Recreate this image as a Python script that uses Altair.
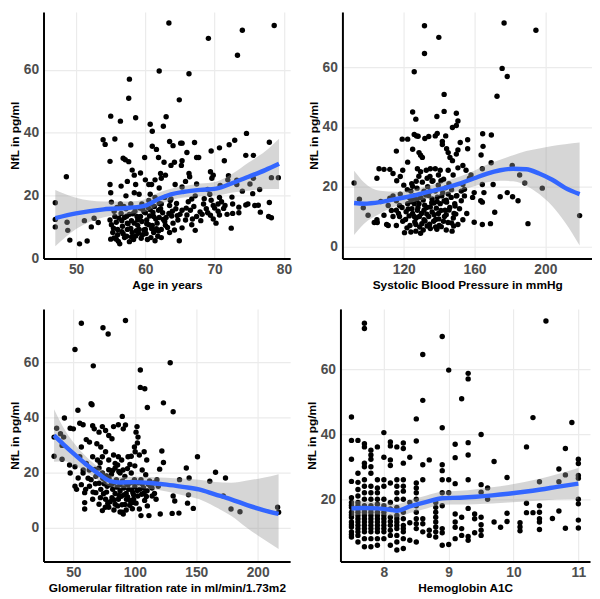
import altair as alt
import pandas as pd

FONT = "Liberation Sans"

# ---------------- Panel 1: Age ----------------
age_pts = [
    (63.4,75.0),(78.6,74.2),(74.0,72.7),(69.1,70.1),(73.3,64.7),(62.0,59.7),(66.3,58.8),(57.7,57.1),(57.6,51.0),(64.9,50.5),
    (55.0,45.3),(58.6,44.8),(63.0,45.1),(56.4,43.7),(60.7,42.7),(62.6,42.1),(61.0,40.5),(74.6,39.8),(53.9,37.8),(55.6,38.0),
    (54.2,36.3),(57.9,36.1),(63.5,37.2),(65.1,36.7),(67.1,36.9),(72.9,37.6),(77.9,37.0),(48.6,26.0),(47.0,17.7),(47.0,12.4),
    (47.0,10.0),(48.7,11.5),(48.8,8.9),(49.1,5.8),(50.5,4.6),(51.2,12.0),(51.6,5.5),(52.6,12.8),(52.2,10.0),(53.2,11.4),
    (78.2,25.7),(79.2,25.7),(77.9,17.8),(77.8,13.3),(78.2,12.9),(75.6,32.8),(74.5,32.8),(75.5,20.6),(76.5,21.9),(75.1,23.7),
    (74.8,17.3),(75.8,16.8),(76.3,16.9),(76.6,14.7),(75.6,25.5),(72.4,9.6),(72.1,36.2),(71.4,31.1),(70.7,35.2),(72.0,26.3),
    (71.9,25.0),(73.2,24.9),(73.2,23.5),(74.0,21.4),(72.6,17.3),(73.5,16.3),(72.6,14.3),(71.3,15.9),(70.7,13.8),(70.2,11.2),
    (69.4,13.7),(68.8,15.8),(69.8,16.8),(70.5,17.3),(68.4,17.3),(67.9,14.8),(70.7,19.4),(69.3,20.4),(69.4,27.6),(69.6,25.5),
    (69.8,26.5),(69.5,34.2),(69.0,21.9),(70.8,23.2),(67.2,19.9),(67.4,32.1),(67.7,32.1),(66.0,33.7),(66.3,27.0),(66.4,26.0),
    (65.3,31.1),(65.2,29.6),(64.2,30.6),(63.7,29.6),(64.0,35.9),(65.3,36.7),(64.3,23.5),(65.3,22.7),(65.8,24.5),(67.4,23.7),
    (66.7,18.9),(63.7,18.9),(63.5,16.8),(64.4,15.8),(65.3,15.3),(66.5,15.3),(67.4,13.3),(65.8,12.2),(64.7,12.2),(64.0,11.2),
    (65.3,9.7),(66.7,10.7),(67.2,8.9),(64.9,5.6),(63.5,8.2),(62.8,11.7),(61.9,8.7),(62.3,6.6),(61.4,5.6),(60.8,6.6),
    (60.0,9.2),(60.2,12.2),(61.2,13.3),(61.9,15.3),(62.3,17.3),(62.8,19.4),(62.0,22.4),(62.3,25.5),(62.2,27.0),(60.7,20.4),
    (60.5,18.4),(59.5,17.3),(59.8,14.8),(58.8,13.3),(59.5,11.7),(58.4,11.2),(59.1,9.2),(58.1,8.2),(58.6,7.1),(57.7,5.3),
    (57.0,6.6),(56.3,4.6),(55.8,6.1),(55.0,6.1),(55.3,8.2),(56.0,9.2),(56.7,10.2),(57.4,11.2),(55.1,10.7),(54.9,12.2),
    (55.6,13.3),(56.5,14.3),(57.2,15.8),(57.9,17.3),(56.4,17.3),(55.1,17.9),(55.0,20.9),(54.9,23.5),(54.9,30.9),(56.8,31.9),
    (57.6,30.8),(57.1,31.4),(58.1,28.1),(59.3,27.2),(59.9,32.1),(58.4,26.5),(58.6,23.5),(57.4,24.5),(56.5,23.0),(57.2,19.9),
    (58.4,20.9),(59.1,20.4),(60.0,25.0),(60.9,23.5),(61.4,25.0),(60.5,23.5),(61.0,35.7),(61.6,34.7),(61.9,32.1),(62.7,30.6),
    (62.9,26.5),(63.6,18.4),(63.4,14.3),(60.9,17.3),(61.4,19.4),(59.3,13.3),(60.5,10.7),(61.2,8.2),(61.7,11.2),(62.3,9.2),
    (56.0,7.5),(56.6,8.5),(57.3,7.0),(57.9,9.5),(58.3,6.0),(58.9,10.5),(59.6,7.5),(60.3,6.0),(60.9,9.5),(61.5,12.5),
    (56.2,12.8),(57.0,13.0),(57.7,14.0),(58.5,15.0),(59.2,16.0),(60.0,14.5),(60.7,15.5),(61.3,16.5),(62.0,13.0),(62.5,14.5),
    (55.5,15.0),(55.8,11.5),(56.9,16.5),(58.0,12.0),(59.0,8.0),(60.2,11.0),(61.8,7.0),(62.9,10.5),(63.8,13.5),(64.5,17.5),
    (65.0,14.0),(65.9,16.0),(66.2,18.0),(67.0,16.5),(68.0,12.0),(69.0,14.5),(70.0,16.0),(71.0,18.0),(71.8,14.0),(72.5,19.5),
    (73.5,14.5),(74.5,17.0),(68.5,19.0),(69.5,18.5),(70.5,15.0),(55.5,6.5),(57.5,11.0),(59.8,9.0),(61.0,10.5),(62.0,17.5),
    (55.4,9.6),(56.1,5.4),(56.8,7.8),(57.4,9.2),(58.0,6.8),(58.7,8.8),(59.4,6.4),(60.1,7.9),(60.6,13.5),(61.6,9.4),
    (62.6,12.4),(63.2,9.8),(63.9,15.0),(64.6,13.6),(55.9,16.2),(56.6,12.0),(57.3,13.4),(58.2,14.2),(58.9,12.2),(59.6,15.6),
    (60.4,16.2),(61.1,14.6),(62.2,15.8),(63.0,13.0),(66.0,13.8),(68.2,14.0),(69.8,12.5),(71.5,16.8),(66.8,12.5),(64.2,9.0),
]
age_fit_x = [47, 50, 54, 57.7, 60, 61.9, 63.7, 65.6, 67.9, 70.2, 72.6, 74.9, 77.3, 79.3]
age_fit = [12.8, 14.3, 15.6, 16.1, 16.8, 18.9, 20.4, 21.2, 21.8, 22.2, 24.0, 26.0, 28.1, 30.1]
age_lo = [3.8, 9.3, 13.1, 14.1, 14.8, 16.9, 18.6, 19.4, 19.8, 20.0, 21.0, 21.5, 22.1, 22.1]
age_hi = [21.8, 19.3, 18.1, 18.1, 18.8, 20.9, 22.2, 23.0, 23.8, 24.4, 27.0, 30.5, 34.1, 38.1]

# ---------------- Panel 2: SBP ----------------
sbp_pts = [
    (131.7,73.9),(176.7,74.8),(194.7,72.4),(139.8,70.0),(131.7,64.6),(125.9,58.5),(175.6,59.6),(178.5,56.9),(172.7,50.3),(142.8,50.9),
    (125.0,45.0),(126.8,42.6),(142.8,45.2),(149.7,44.6),(138.7,43.5),(150.6,42.0),(149.7,40.5),(147.5,39.8),(138.9,37.8),(137.8,37.0),
    (125.9,37.5),(127.2,37.0),(128.1,36.9),(143.7,37.0),(164.6,37.7),(169.5,37.3),(119.1,35.9),(122.2,35.9),(131.9,36.1),(134.1,36.8),
    (141.8,35.1),(141.8,34.1),(151.9,34.8),(156.1,35.7),(156.1,32.7),(115.8,31.9),(125.0,32.5),(128.6,31.4),(129.5,30.5),(130.5,29.8),
    (144.2,32.7),(145.1,31.4),(146.1,29.8),(147.5,28.7),(149.7,30.9),(150.6,32.3),(164.8,33.5),(163.7,30.6),(104.8,22.8),(91.9,21.2),
    (108.8,25.8),(112.1,25.8),(113.9,24.4),(118.0,23.4),(119.4,25.5),(122.2,28.2),(127.7,26.0),(129.5,25.0),(132.7,25.5),(135.0,26.0),
    (137.8,26.0),(140.6,25.5),(133.2,22.8),(136.0,21.8),(139.6,23.9),(145.1,25.5),(147.9,23.9),(150.6,26.3),(153.4,27.1),(155.2,25.5),
    (157.1,22.8),(158.0,23.9),(164.4,26.0),(164.4,20.7),(165.3,18.0),(163.5,15.3),(164.4,14.8),(159.8,18.0),(158.9,16.4),(154.3,16.9),
    (152.5,15.3),(169.4,28.0),(170.5,20.7),(174.5,16.6),(171.4,11.4),(181.3,27.1),(185.5,23.9),(188.4,21.2),(178.5,18.0),(181.5,16.6),
    (184.6,15.3),(198.3,19.5),(190.2,7.6),(219.4,10.3),(169.0,7.6),(164.4,7.3),(159.8,8.1),(155.6,11.0),(153.4,8.9),(150.6,7.3),
    (94.9,15.8),(97.1,12.9),(99.8,10.4),(103.3,8.0),(104.8,8.9),(108.8,10.4),(110.3,7.3),(111.2,13.7),(112.1,16.1),(113.9,16.9),
    (115.8,15.3),(115.8,7.0),(111.2,7.0),(113.9,10.0),(115.8,12.1),(117.6,13.7),(117.6,10.0),(119.4,8.4),(120.4,4.6),(121.3,11.6),
    (122.2,14.3),(123.1,16.4),(124.0,18.5),(125.0,20.1),(125.9,14.3),(125.9,10.0),(126.8,7.3),(126.8,5.1),(129.5,4.4),(127.7,12.1),
    (128.6,14.3),(129.5,16.4),(131.4,18.5),(131.4,12.1),(131.4,8.9),(133.2,6.8),(134.1,10.0),(135.0,13.2),(136.0,15.9),(137.8,18.5),
    (136.9,8.4),(138.7,5.7),(139.6,11.0),(140.6,14.3),(141.5,16.9),(142.4,8.4),(143.3,12.1),(144.2,14.8),(145.1,17.5),(147.0,7.8),
    (147.3,5.1),(148.4,11.0),(148.8,14.3),(149.7,16.9),(151.5,12.6),(152.5,18.5),(153.4,20.7),(154.3,19.1),(135.0,18.5),
    (121,9),(122.5,12.5),(123.5,7),(124,15),(125,11),(126,17),(127,9.5),(128,13),(129,6.5),(130,11),
    (131,15.5),(132,8.5),(133,13),(134,17),(135,6),(136,11.5),(137,14.5),(138,9),(139,16.5),(140,7),
    (141,12),(142,18),(143,10),(144,15.5),(145,8),(146,13),(147,19),(148,9.5),(149,13.5),(150,17),
    (122,19),(124.5,21),(127.5,19.5),(130.5,21.5),(133.5,20),(136.5,22),(139.5,20.5),(142.5,22.5),(145.5,21),(128.5,23.5),
    (118,17.5),(119,13),(120,20.5),(116,22),(117,11),(113,12),(124,4.8),(131,5.5),(138,6.5),(144,5.5),
    (106,26),(105,8),(107,15),
    (121.8,6.2),(123.0,10.2),(124.6,12.6),(126.2,8.2),(127.4,15.6),(128.8,10.0),(130.2,7.6),(131.8,13.8),(133.0,10.8),(134.6,7.4),
    (135.8,14.6),(137.2,10.6),(138.4,12.8),(139.8,9.2),(141.2,6.6),(142.8,15.2),(144.0,10.6),(145.6,12.2),(146.8,16.4),(148.2,6.8),
    (149.4,10.8),(125.2,16.0),(132.4,17.2),(138.8,15.0),(143.6,19.6),(127.0,21.8),(134.8,23.4),(141.0,22.0),
]
sbp_fit_x = [91.9, 97.4, 106.6, 115.8, 125, 134.1, 143.3, 152.5, 159.8, 167.2, 174.5, 181.8, 189.2, 196.5, 203.9, 211.2, 219.4]
sbp_fit = [14.5, 14.3, 14.8, 15.9, 16.9, 18.3, 19.6, 21.2, 22.8, 24.4, 25.5, 26.0, 25.8, 24.4, 22.3, 19.6, 17.5]
sbp_lo = [3.8, 7.5, 11.0, 13.5, 14.8, 16.0, 17.4, 18.8, 20.1, 21.5, 22.0, 21.8, 20.3, 17.5, 13.5, 8.0, 0.3]
sbp_hi = [25.3, 21.5, 18.6, 18.3, 19.0, 20.4, 21.8, 23.6, 25.3, 27.4, 29.0, 30.5, 31.9, 32.8, 33.6, 34.2, 34.8]

# ---------------- Panel 3: GFR ----------------
gfr_pts = [
    (92.4,75.1),(56.5,74.1),(74.1,72.5),(78.3,70.2),(51.3,64.6),(66.2,58.7),(128.8,59.8),(104.5,57.2),(104.5,50.9),(108.1,50.4),
    (64.4,45.0),(65.2,44.6),(123.3,45.3),(131.2,42.1),(110.2,43.6),(53.7,42.6),(42.7,39.8),(89.8,40.4),(55.2,37.9),(57.9,37.4),
    (36.4,36.1),(39.5,34.1),(34.3,32.9),(42.1,32.9),(47.4,36.1),(50.0,35.9),(40.8,29.9),(34.3,26.0),(40.8,24.9),(46.9,22.8),
    (51.3,22.2),(47.4,19.9),(51.3,15.1),(52.6,14.0),(59.2,12.8),(59.2,9.2),(59.2,6.9),(65.7,37.0),(67.0,35.9),(73.6,36.7),
    (70.9,34.7),(76.2,35.3),(82.7,36.7),(86.6,37.4),(92.4,37.3),(90.6,35.9),(78.8,33.5),(81.4,32.3),(60.5,32.0),(63.1,31.1),
    (69.1,30.5),(72.3,29.3),(101.8,36.7),(101.0,34.7),(102.6,32.9),(102.1,30.8),(99.7,29.3),(100.3,27.6),(86.6,25.8),(89.3,24.6),
    (94.5,25.8),(97.1,26.0),(103.7,26.4),(107.6,27.6),(109.7,24.6),(122.0,27.9),(123.3,23.7),(120.2,21.3),(151.0,25.8),(165.7,20.2),
    (173.8,18.1),(141.9,21.7),(144.2,18.1),(161.0,16.9),(143.7,12.0),(142.9,9.0),(147.6,7.1),(136.4,17.5),(131.2,11.6),(132.5,9.8),
    (135.9,5.4),(130.4,5.3),(120.7,5.1),(117.3,10.4),(119.1,15.1),(115.4,16.3),(107.6,12.8),(110.2,8.0),(111.5,4.5),(105.0,4.5),
    (103.7,6.9),(178.3,6.9),(185.6,5.9),(172.0,11.6),(216.2,7.5),(217.0,5.7),(89.8,5.7),(90.6,5.1),(73.6,6.3),(70.9,8.6),
    (78.8,7.5),(84.0,8.6),(76.2,10.4),(81.4,11.0),(86.6,10.4),(93.2,10.4),(98.4,9.2),(65.7,10.4),(68.3,12.8),(72.3,14.0),
    (77.5,15.1),(82.7,16.3),(88.0,15.7),(94.5,15.7),(98.4,12.8),(102.4,11.6),(63.1,15.1),(64.4,17.5),(68.3,18.7),(73.6,19.9),
    (78.8,21.1),(84.0,21.7),(88.0,19.9),(91.9,18.7),(97.1,19.9),(99.7,17.5),(105.0,17.5),(108.9,19.3),(112.8,15.1),(114.1,11.6),
    (57.9,19.9),(60.5,23.4),(65.7,25.8),(69.6,24.6),(73.6,25.8),(78.8,24.6),(82.7,26.4),(84.0,23.4),(76.2,27.6),(70.9,21.7),
    (55.2,25.8),(56.5,29.3),(53.9,18.1),(56.5,15.7),
    (72,11),(75,16),(77,13),(79,18),(80,9.5),(82,14),(84,12.5),(85,17.5),(86,8),(88,13.5),
    (89,11.5),(90,17),(91,14.5),(92,8.5),(93,12.5),(95,14),(96,10),(97,16.5),(99,12),(100,15),
    (101,9),(104,14),(106,16),(108,10),(110,13.5),(112,17),(114,14.5),(116,12.5),(118,17.5),(74,18),
    (81,19.5),(87,20.5),(94,21.5),(100,22.5),(106,21),(76,7.5),(83,6.5),(88,5.8),(93,6.5),(98,7),
    (66,13),(68,16),(62,18),(60,14),(58,21),(63,21),
    (74.5,12.4),(78.0,9.0),(80.8,15.6),(83.2,10.2),(85.6,14.8),(87.2,11.8),(89.6,8.4),(91.0,12.0),(92.8,16.2),(94.2,11.2),
    (95.8,8.2),(97.6,13.8),(99.0,10.4),(102.0,13.6),(103.2,16.4),(105.6,12.2),(107.0,14.6),(109.4,11.4),(111.0,15.8),(71.0,16.2),
    (76.8,18.8),(82.0,20.8),(86.0,22.8),(90.4,21.0),(96.0,23.0),(67.6,21.2),(71.8,23.6),
]
gfr_fit_x = [34.3, 42.1, 50, 60.5, 70.9, 80, 88, 99.7, 112.8, 125.9, 139, 152.1, 165.2, 178.3, 191.4, 204.5, 217]
gfr_fit = [33.5, 30.2, 27.0, 23.0, 19.5, 17.0, 16.5, 16.6, 16.3, 15.7, 14.9, 14.0, 12.2, 10.4, 8.3, 6.5, 5.1]
gfr_lo = [24.0, 24.2, 23.0, 20.2, 17.2, 15.0, 14.5, 14.6, 14.1, 13.2, 11.9, 10.5, 7.7, 4.4, 0.0, -4.0, -7.6]
gfr_hi = [43.0, 36.2, 31.0, 25.8, 21.8, 19.0, 18.5, 18.6, 18.5, 18.2, 17.9, 17.5, 16.7, 16.4, 17.2, 18.2, 19.5]

# ---------------- Panel 4: HbA1c ----------------
hba_pts = [
    (7.7,74.1),(7.7,72.5),(10.5,74.8),(8.9,70.0),(8.6,64.5),(9.0,59.7),(9.3,58.7),(9.3,57.0),(8.6,50.4),(9.2,50.9),
    (7.5,45.3),(8.5,44.7),(10.3,45.1),(10.9,43.6),(8.9,42.0),(9.5,39.9),(7.6,38.1),(7.5,38.1),(8.0,40.5),(8.5,37.9),
    (10.2,36.1),(10.8,35.6),(11,32.3),(11,31.0),(11,27.3),(11,26.5),(11,20.0),(11,18.6),(11,13.6),(11,11.2),
    (10.7,29.3),(10.7,25.4),(10.8,27.5),(10.8,11.1),(10.7,16.4),(10.6,14.1),(10.4,25.4),(10.4,18.0),(10.4,16.0),(10.4,14.0),
    (10.4,13.0),(10.4,10.7),(10.3,15.9),(10.2,18.8),(10.2,15.9),(10.1,12.8),(10.1,11.5),(10.1,10.3),(9.9,15.7),(9.9,13.2),
    (9.9,26.7),(9.8,11.4),(9.7,31.6),(9.7,13.0),(9.6,23.5),(9.6,20.0),(9.5,24.5),(9.5,22.2),(9.5,14.5),(9.5,12.2),
    (9.5,10.5),(9.5,8.9),(9.4,15.5),(9.4,14.0),(9.4,9.7),(9.3,37.4),(9.3,33.6),(9.3,26.0),(9.3,17.2),(9.3,8.6),
    (9.3,7.4),(9.2,14.5),(9.2,11.0),(9.2,8.9),(9.1,36.9),(9.1,32.8),(9.1,24.8),(9.1,15.5),(9.1,13.0),(9.1,11.4),
    (9.1,7.9),(9.0,26.0),(9.0,22.0),(9.0,6.1),(8.9,30.6),(8.9,28.8),(8.9,26.0),(8.9,22.0),(8.9,18.0),(8.9,11.0),
    (8.9,9.7),(8.9,5.9),(8.8,19.0),(8.8,17.5),(8.8,16.0),(8.8,14.5),(8.8,13.0),(8.8,11.5),(8.8,10.0),(8.8,8.4),
    (8.7,32.1),(8.7,10.5),(8.7,8.9),(8.6,30.6),(8.6,26.0),(8.6,14.0),(8.6,12.5),(8.6,10.0),(8.5,25.0),(8.5,23.5),
    (8.5,22.0),(8.5,20.0),(8.5,18.0),(8.5,16.0),(8.5,14.0),(8.5,11.0),(8.5,6.9),(8.4,32.9),(8.4,19.0),(8.4,12.8),
    (8.4,7.4),(8.3,37.3),(8.3,35.6),(8.3,31.1),(8.3,26.0),(8.3,24.0),(8.3,22.5),(8.3,20.0),(8.3,16.0),(8.3,12.0),
    (8.3,10.0),(8.3,7.9),(8.3,4.9),(8.2,36.1),(8.2,26.0),(8.2,24.0),(8.2,22.0),(8.2,20.0),(8.2,17.5),(8.2,15.0),
    (8.2,13.0),(8.2,11.0),(8.2,8.9),(8.2,6.9),(8.2,4.4),(8.1,37.6),(8.1,36.4),(8.1,32.1),(8.1,30.4),(8.1,25.0),
    (8.1,19.0),(8.1,17.0),(8.1,14.5),(8.1,12.0),(8.1,8.9),(8.1,5.9),(8.0,32.9),(8.0,26.0),(8.0,24.0),(8.0,20.0),
    (8.0,18.0),(8.0,16.0),(8.0,14.0),(8.0,12.0),(8.0,10.0),(8.0,7.9),(7.9,36.1),(7.9,26.0),(7.9,23.5),(7.9,22.0),
    (7.9,20.0),(7.9,18.5),(7.9,16.0),(7.9,14.0),(7.9,12.0),(7.9,10.0),(7.9,7.9),(7.9,5.9),(7.8,35.1),(7.8,33.6),
    (7.8,32.3),(7.8,30.0),(7.8,28.0),(7.8,24.0),(7.8,22.0),(7.8,20.0),(7.8,18.0),(7.8,16.0),(7.8,14.0),(7.8,12.0),
    (7.8,10.0),(7.8,7.9),(7.8,5.4),(7.7,37.1),(7.7,36.1),(7.7,31.1),(7.7,30.0),(7.7,26.0),(7.7,24.0),(7.7,22.0),
    (7.7,20.0),(7.7,18.0),(7.7,16.0),(7.7,14.0),(7.7,12.0),(7.7,10.0),(7.7,7.9),(7.7,5.4),(7.6,28.0),(7.6,25.2),
    (7.6,23.0),(7.6,21.0),(7.6,19.0),(7.6,17.0),(7.6,15.0),(7.6,13.0),(7.6,11.0),(7.6,8.9),(7.6,6.9),(7.5,32.3),
    (7.5,25.5),(7.5,20.5),(7.5,19.0),(7.5,17.5),(7.5,16.0),(7.5,14.5),(7.5,13.0),(7.5,11.5),(7.5,10.0),(7.5,8.4),
    (7.5,9.2),(7.5,12.2),(7.5,15.2),(7.5,18.2),(7.6,10.0),(7.6,12.0),(7.6,14.0),(7.6,16.0),(7.6,18.0),(7.7,11.0),
    (7.7,13.0),(7.7,15.0),(7.7,17.0),(7.8,11.0),(7.8,13.0),(7.8,15.0),(7.8,17.0),(7.9,11.0),(7.9,13.0),(7.9,15.0),
    (8.0,11.0),(8.0,13.0),(8.0,15.0),(8.1,10.5),(8.1,13.2),(8.2,12.0),(8.2,14.0),(8.3,11.0),(8.3,14.0),(8.5,12.5),
]
hba_fit_x = [7.5, 7.7, 7.9, 8.1, 8.2, 8.4, 8.66, 8.9, 9.17, 9.42, 9.67, 9.92, 10.17, 10.42, 10.67, 11]
hba_fit = [17.2, 17.3, 17.2, 16.8, 16.5, 17.8, 19.2, 20.3, 20.5, 20.8, 21.2, 21.7, 22.3, 23.0, 23.8, 24.8]
hba_lo = [14.8, 15.3, 15.3, 14.9, 14.5, 15.8, 17.2, 18.3, 18.4, 18.5, 18.7, 19.0, 19.3, 19.6, 19.9, 20.0]
hba_hi = [19.6, 19.3, 19.1, 18.7, 18.5, 19.8, 21.2, 22.3, 22.6, 23.1, 23.7, 24.4, 25.3, 26.4, 27.7, 29.6]

Y_TITLE = "NfL in pg/ml"


def panel(pts, fx, ffit, flo, fhi, xdom, ydom, xticks, yticks, xtitle, w, h):
    pdf = pd.DataFrame(pts, columns=["x", "y"])
    fdf = pd.DataFrame({"x": fx, "fit": ffit, "lo": flo, "hi": fhi})
    xs = alt.Scale(domain=xdom, nice=False, zero=False)
    ys = alt.Scale(domain=ydom, nice=False, zero=False)
    xax = alt.Axis(values=xticks, title=xtitle, labelPadding=4, titlePadding=3)
    yax = alt.Axis(values=yticks, title=Y_TITLE, labelPadding=5, titlePadding=2)
    X = lambda f: alt.X(f + ":Q", scale=xs, axis=xax)
    Y = lambda f: alt.Y(f + ":Q", scale=ys, axis=yax)
    p = alt.Chart(pdf).mark_circle(size=30, color="black", opacity=1).encode(x=X("x"), y=Y("y"))
    band = alt.Chart(fdf).mark_area(color="#999999", opacity=0.4, interpolate="monotone", clip=True).encode(
        x=X("x"), y=Y("lo"), y2="hi:Q")
    line = alt.Chart(fdf).mark_line(color="#3366FF", strokeWidth=4.5, interpolate="monotone", clip=True).encode(
        x=X("x"), y=Y("fit"))
    return alt.layer(p, band, line).properties(width=w, height=h)


W1, W2, H1, H2 = 250, 253, 250, 256

p1 = panel(age_pts, age_fit_x, age_fit, age_lo, age_hi, [45.3, 80.9], [-0.1, 78.5],
           [50, 60, 70, 80], [0, 20, 40, 60], "Age in years", W1, H1)
p2 = panel(sbp_pts, sbp_fit_x, sbp_fit, sbp_lo, sbp_hi, [85.3, 226.4], [-4.1, 78.5],
           [120, 160, 200], [0, 20, 40, 60], "Systolic Blood Pressure in mmHg", W2, H1)
p3 = panel(gfr_pts, gfr_fit_x, gfr_fit, gfr_lo, gfr_hi, [25.7, 226.4], [-12.1, 79.3],
           [50, 100, 150, 200], [0, 20, 40, 60], "Glomerular filtration rate in ml/min/1.73m2", W1, H2)
p4 = panel(hba_pts, hba_fit_x, hba_fit, hba_lo, hba_hi, [7.33, 11.18], [0.9, 78.5],
           [8, 9, 10, 11], [20, 40, 60], "Hemoglobin A1C", W2, H2)

chart = alt.vconcat(
    alt.hconcat(p1, p2, spacing=15),
    alt.hconcat(p3, p4, spacing=15),
    spacing=19,
).properties(padding=0).configure_view(stroke=None).configure_axis(
    domainColor="black", domainWidth=2, ticks=False, grid=True, gridColor="#ebebeb", gridWidth=1.2,
    labelFont=FONT, labelFontSize=14, labelFontWeight="bold", labelColor="#4d4d4d",
    titleFont=FONT, titleFontSize=12, titleFontWeight="bold", titleColor="black",
)

chart.save("out.html", embed_options={"renderer": "svg", "actions": False})
